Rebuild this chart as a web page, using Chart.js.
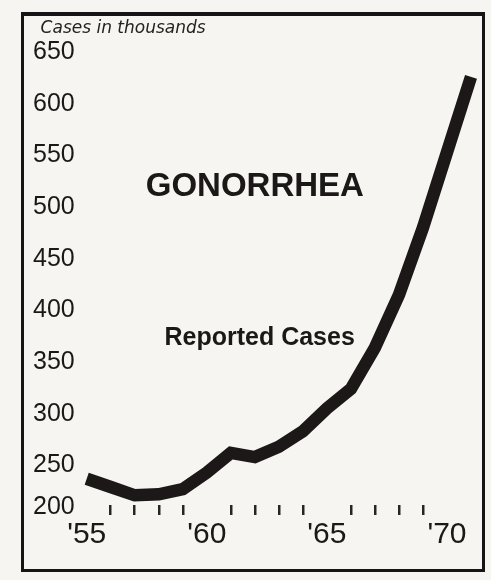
<!DOCTYPE html>
<html>
<head>
<meta charset="utf-8">
<script src="https://cdn.jsdelivr.net/npm/chart.js@4.4.1/dist/chart.umd.min.js"></script>
<style>
    html, body { margin: 0; padding: 0; background: #f6f5f2; overflow: hidden; }
    #wrap { position: relative; width: 491px; height: 580px; }
    #frame {
        position: absolute; left: 21px; top: 12px; width: 464px; height: 560px;
        box-sizing: border-box; border: 3px solid #161414; border-top-width: 4px;
        pointer-events: none;
    }
</style>
</head>
<body>
<div id="wrap">
    <canvas id="chart" width="491" height="580"></canvas>
    <div id="frame"></div>
</div>
<script>
// reported gonorrhea cases, thousands
const years = [1955, 1956, 1957, 1958, 1959, 1960, 1961, 1962, 1963, 1964, 1965, 1966, 1967, 1968, 1969, 1970, 1971];
const cases = [237, 229, 221, 222, 227, 243, 262, 258, 268, 283, 305, 324, 364, 415, 480, 553, 626];

const labelYears = [1955, 1960, 1965, 1970];
const minorYears = [1956, 1957, 1958, 1959, 1961, 1962, 1963, 1964, 1966, 1967, 1968, 1969];
const yTicks = [200, 250, 300, 350, 400, 450, 500, 550, 600, 650];

const INK = "#1c1818";
const SANS = "'Liberation Sans', Arial, Helvetica, sans-serif";

// free-floating captions, placed in data units so they follow the scales
const notesPlugin = {
    id: "notes",
    afterDraw(chart, args, opts) {
        const { ctx, scales: { x, y } } = chart;
        ctx.save();
        ctx.textBaseline = "middle";
        opts.items.forEach((n) => {
            ctx.font = n.font;
            ctx.fillStyle = n.color || INK;
            ctx.textAlign = n.align || "center";
            ctx.fillText(n.text, x.getPixelForValue(n.x), y.getPixelForValue(n.y));
        });
        ctx.restore();
    },
};

new Chart(document.getElementById("chart"), {
    type: "line",
    data: {
        datasets: [
            {
                label: "Reported Cases",
                data: years.map((yr, i) => ({ x: yr, y: cases[i] })),
                borderColor: INK,
                borderWidth: 12.5,
                borderJoinStyle: "miter",
                borderCapStyle: "butt",
                pointRadius: 0,
                tension: 0,
                clip: false,
            },
        ],
    },
    options: {
        responsive: false,
        animation: false,
        layout: { padding: { left: 33, right: 20, top: 52, bottom: 27 } },
        plugins: {
            legend: { display: false },
            tooltip: { enabled: false },
            notes: {
                items: [
                    { text: "Cases in thousands", x: 1953.08, y: 673, align: "left", color: "#242222",
                      font: "italic 17px 'DejaVu Sans', sans-serif" },
                    { text: "GONORRHEA", x: 1962, y: 519, font: "bold 33px " + SANS },
                    { text: "Reported Cases", x: 1962.2, y: 373, font: "bold 25px " + SANS },
                ],
            },
        },
        scales: {
            x: {
                type: "linear",
                min: 1955,
                max: 1971,
                afterBuildTicks: (scale) => {
                    scale.ticks = labelYears.map((v) => ({ value: v }));
                },
                grid: { display: false, drawTicks: false },
                border: { display: false },
                ticks: {
                    padding: 0,
                    color: INK,
                    font: { family: SANS, size: 30 },
                    callback: (v) => "'" + String(v).slice(2),
                },
            },
            // the little year dashes sitting just above the baseline
            x2: {
                type: "linear",
                axis: "x",
                min: 1955,
                max: 1971,
                position: { y: 211.5 },
                afterBuildTicks: (scale) => {
                    scale.ticks = minorYears.map((v) => ({ value: v }));
                },
                grid: {
                    drawOnChartArea: false,
                    drawTicks: true,
                    tickLength: 10,
                    lineWidth: 2.5,
                    color: "#2a2424",
                },
                border: { display: false },
                ticks: { display: false },
            },
            y: {
                min: 200,
                max: 650,
                afterBuildTicks: (scale) => {
                    scale.ticks = yTicks.map((v) => ({ value: v }));
                },
                grid: { display: false, drawTicks: false },
                border: { display: false },
                ticks: {
                    crossAlign: "far",
                    padding: 6,
                    color: INK,
                    // bottom label is nudged up clear of the year labels
                    callback: (v) => (v === 200 ? ["200", ""] : String(v)),
                    font: (c) =>
                        c.tick && c.tick.value === 200
                            ? { family: SANS, size: 25, lineHeight: 0.8 }
                            : { family: SANS, size: 25 },
                },
            },
        },
    },
    plugins: [notesPlugin],
});
</script>
</body>
</html>
